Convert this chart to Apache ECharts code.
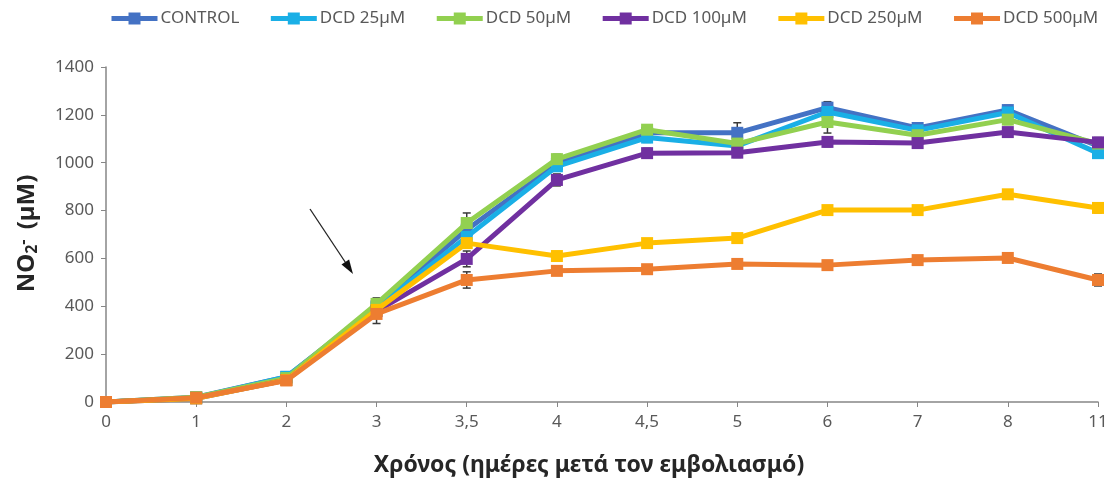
<!DOCTYPE html>
<html>
<head>
<meta charset="utf-8">
<script src="https://cdn.jsdelivr.net/npm/echarts@6/dist/echarts.min.js"></script>
<style>html,body{margin:0;padding:0;background:#fff;}#c{width:1113px;height:483px;}</style>
</head>
<body>
<div id="c"></div>
<script>
const categories = ['0','1','2','3','3,5','4','4,5','5','6','7','8','11'];
const seriesNames = ['CONTROL','DCD 25µM','DCD 50µM','DCD 100µM','DCD 250µM','DCD 500µM'];
const control = [0,20,105,400,720,995,1125,1125,1230,1145,1220,1070];
const dcd25 = [0,18,105,395,690,985,1105,1070,1212,1135,1210,1040];
const dcd50 = [0,20,100,410,748,1015,1138,1080,1170,1115,1180,1080];
const dcd100 = [0,15,92,380,598,928,1040,1042,1087,1082,1128,1085];
const dcd250 = [0,15,92,385,664,610,664,685,802,802,868,811];
const dcd500 = [0,18,90,368,510,548,555,577,572,593,602,510];
const controlErr = [0,8,10,30,40,25,20,42,25,20,20,20];
const dcd25Err = [0,5,10,20,30,20,20,20,20,20,20,20];
const dcd50Err = [0,5,10,25,42,20,20,20,46,20,20,20];
const dcd100Err = [0,5,10,20,33,25,20,20,20,15,15,20];
const dcd250Err = [0,5,10,20,20,15,15,15,15,15,15,20];
const dcd500Err = [0,5,10,40,34,15,15,15,15,15,15,25];
const yTicks = {min:0, max:1400, interval:200};

const colors = ['#4472C4','#1AAFE6','#92D050','#7030A0','#FFC000','#ED7D31'];
const values = [control,dcd25,dcd50,dcd100,dcd250,dcd500];
const errs = [controlErr,dcd25Err,dcd50Err,dcd100Err,dcd250Err,dcd500Err];

const errData = [];
values.forEach((arr, s) => arr.forEach((v, i) => errData.push([i, v, errs[s][i]])));

const chart = echarts.init(document.getElementById('c'));
const font = 'Noto Sans';
const series = values.map((arr, s) => ({
  name: seriesNames[s],
  type: 'line',
  data: arr,
  symbol: 'rect',
  symbolSize: 12,
  lineStyle: {width: 5, color: colors[s]},
  itemStyle: {color: colors[s]},
  z: 3 + s
}));
series.unshift({
  type: 'custom',
  name: 'err',
  z: 2,
  silent: true,
  data: errData,
  renderItem: function (params, api) {
    const i = api.value(0), v = api.value(1), e = api.value(2);
    const top = api.coord([i, v + e]);
    const bot = api.coord([i, v - e]);
    const w = 4;
    const st = {stroke: '#3a3a3a', lineWidth: 1.5};
    return {type: 'group', children: [
      {type: 'line', shape: {x1: top[0], y1: top[1], x2: bot[0], y2: bot[1]}, style: st},
      {type: 'line', shape: {x1: top[0]-w, y1: top[1], x2: top[0]+w, y2: top[1]}, style: st},
      {type: 'line', shape: {x1: bot[0]-w, y1: bot[1], x2: bot[0]+w, y2: bot[1]}, style: st}
    ]};
  }
});

chart.setOption({
  animation: false,
  backgroundColor: '#fff',
  color: colors,
  grid: {left: 106, right: 15, top: 67, bottom: 81, containLabel: false, outerBoundsMode: 'none'},
  legend: {
    data: seriesNames,
    left: 104,
    top: 5,
    itemWidth: 46,
    itemHeight: 15,
    itemGap: 29,
    lineStyle: {width: 5},
    textStyle: {fontFamily: font, fontSize: 17, color: '#595959', padding: [0,0,0,-2]}
  },
  xAxis: {
    type: 'category',
    data: categories,
    boundaryGap: false,
    axisLine: {lineStyle: {color: '#868686', width: 1.5}},
    axisTick: {show: true, length: 5, lineStyle: {color: '#868686'}},
    axisLabel: {fontFamily: font, fontSize: 17, color: '#595959', margin: 12},
    name: 'Χρόνος (ημέρες μετά τον εμβολιασμό)',
    nameLocation: 'middle',
    nameGap: 52,
    nameTextStyle: {fontFamily: font, fontSize: 23, fontWeight: 'bold', color: '#262626', padding: [0, 26, 0, 0]}
  },
  yAxis: {
    type: 'value',
    min: yTicks.min, max: yTicks.max, interval: yTicks.interval,
    splitLine: {show: false},
    axisLine: {show: true, lineStyle: {color: '#868686', width: 1.5}},
    axisTick: {show: true, length: 5, lineStyle: {color: '#868686'}},
    axisLabel: {fontFamily: font, fontSize: 17, color: '#595959', margin: 12, formatter: v => String(v)},
    name: '{a|NO}{sub|2}{sup|-}{a| (µM)}',
    nameLocation: 'middle',
    nameRotate: 90,
    nameGap: 63,
    nameTextStyle: {
      fontFamily: font, fontSize: 24, fontWeight: 'bold', color: '#262626',
      padding: [0, 0, 0, 2],
      rich: {
        a: {fontFamily: font, fontSize: 24, fontWeight: 'bold', color: '#262626', lineHeight: 32, verticalAlign: 'middle'},
        sub: {fontFamily: font, fontSize: 16, fontWeight: 'bold', color: '#262626', lineHeight: 32, verticalAlign: 'bottom', padding: [0,0,3,0]},
        sup: {fontFamily: font, fontSize: 16, fontWeight: 'bold', color: '#262626', lineHeight: 32, verticalAlign: 'top', padding: [4,4,0,0]}
      }
    }
  },
  graphic: [
    {type: 'line', shape: {x1: 310, y1: 209, x2: 345.5, y2: 262.5}, style: {stroke: '#222', lineWidth: 1.3}},
    {type: 'polygon', shape: {points: [[353,274],[341.5,264.6],[349.1,259.6]]}, style: {fill: '#111'}}
  ],
  series: series
});
</script>
</body>
</html>
